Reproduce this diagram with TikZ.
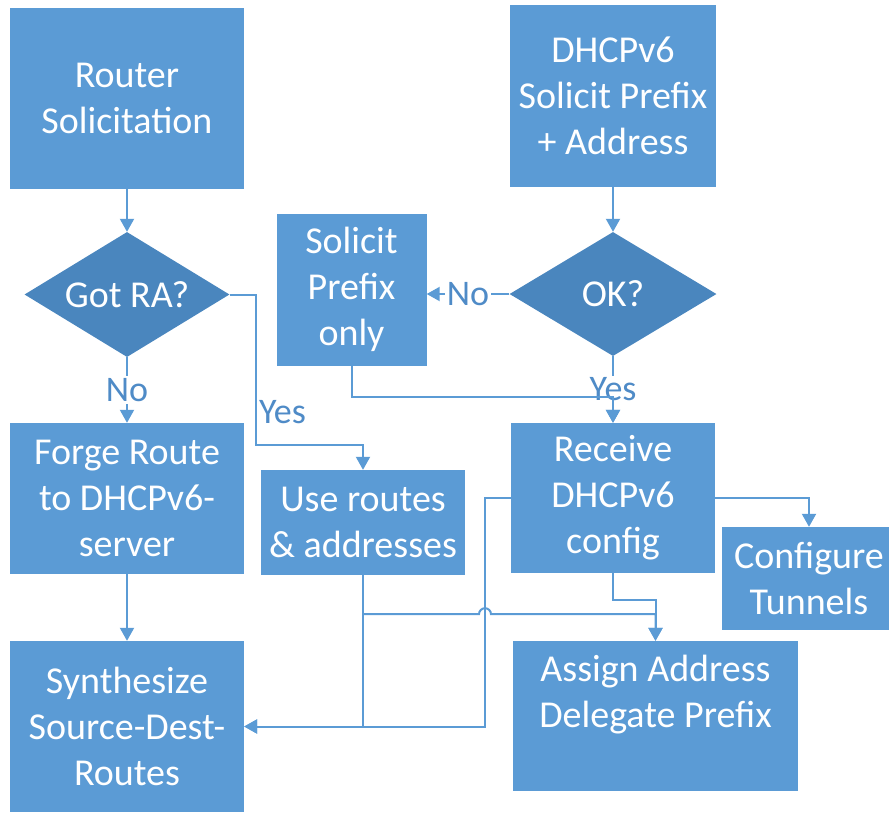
\documentclass[tikz,border=0pt]{standalone}
\usepackage{fontspec}
\setmainfont{Carlito}
\usetikzlibrary{shapes.geometric,arrows.meta,positioning}

\begin{document}
\begin{tikzpicture}[x=1pt,y=-1pt,
  box/.style={rectangle,fill=cbox,text=white,align=center,inner sep=0pt,font=\fontsize{38}{46}\selectfont},
  decision/.style={diamond,aspect=1.64,fill=cdia,text=white,inner sep=0pt,font=\fontsize{38}{46}\selectfont},
  link/.style={draw=cline,line width=2pt,-{Triangle[width=14pt,length=13pt]}},
  lbl/.style={fill=white,text=clbl,inner sep=2pt,font=\fontsize{36}{40}\selectfont}]
%
\useasboundingbox (0,0) rectangle (889,812);
%
\definecolor{cbox}{rgb}{0.357,0.608,0.835}
\definecolor{cdia}{rgb}{0.290,0.525,0.745}
\definecolor{cline}{rgb}{0.357,0.608,0.835}
\definecolor{clbl}{rgb}{0.310,0.545,0.780}
%
\node[box,minimum width=234pt,minimum height=181pt] (rs) at (127,98.5) {Router\\Solicitation};
\node[box,minimum width=206pt,minimum height=182pt] (ds) at (613,96) {DHCPv6\\Solicit Prefix\\+ Address};
\node[decision,minimum width=205pt,minimum height=125pt] (gr) at (127,294.5) {Got RA?};
\node[decision,minimum width=207pt,minimum height=124pt] (ok) at (613,294) {OK?};
\node[box,minimum width=150pt,minimum height=152pt] (sp) at (351.5,289.5) {Solicit\\Prefix\\only};
\node[box,minimum width=234pt,minimum height=151pt] (fr) at (127,498.5) {Forge Route\\to DHCPv6-\\server};
\node[box,minimum width=204pt,minimum height=105pt] (ur) at (363,522.5) {Use routes\\\& addresses};
\node[box,minimum width=204pt,minimum height=150pt] (rc) at (613,498) {Receive\\DHCPv6\\config};
\node[box,minimum width=174pt,minimum height=103pt] (ct) at (809,578.5) {Configure\\Tunnels};
\node[box,minimum width=285pt,minimum height=150pt] (aa) at (655.5,716) {Assign Address\\Delegate Prefix\\\rule[-4pt]{0pt}{0pt}};
\node[box,minimum width=234pt,minimum height=171pt] (sy) at (127,726.5) {Synthesize\\Source-Dest-\\Routes};
%
\coordinate (yesbend) at (256,445);
%
\draw[link] (rs) -- (gr);
\draw[link] (ds) -- (ok);
\draw[link] (gr) -- node[lbl]{No} (fr);
\draw[link] (gr.east) -| node[lbl,right,pos=0.89]{Yes} (yesbend) -| (ur.north);
\draw[link] (ok.west) -- node[lbl]{No} (ok.west -| sp.east);
\draw[link] (ok) -- node[lbl]{Yes} (rc);
\draw[link] (sp.south) -- ++(0,31) -| (rc.north);
\draw[link] (fr) -- (sy);
\draw[link] (ur.south) |- (sy.east);
\draw[link] (rc.west) -- ++(-26,0) |- (sy.east);
\draw[link] (ur.south) ++(0,39) -- ++(116,0) arc[start angle=180,end angle=0,radius=6pt] -| (aa.north);
\draw[link] (rc.south) -- ++(0,27) -| (aa.north);
\draw[link] (rc.east) -| (ct.north);
%
\end{tikzpicture}
\end{document}
